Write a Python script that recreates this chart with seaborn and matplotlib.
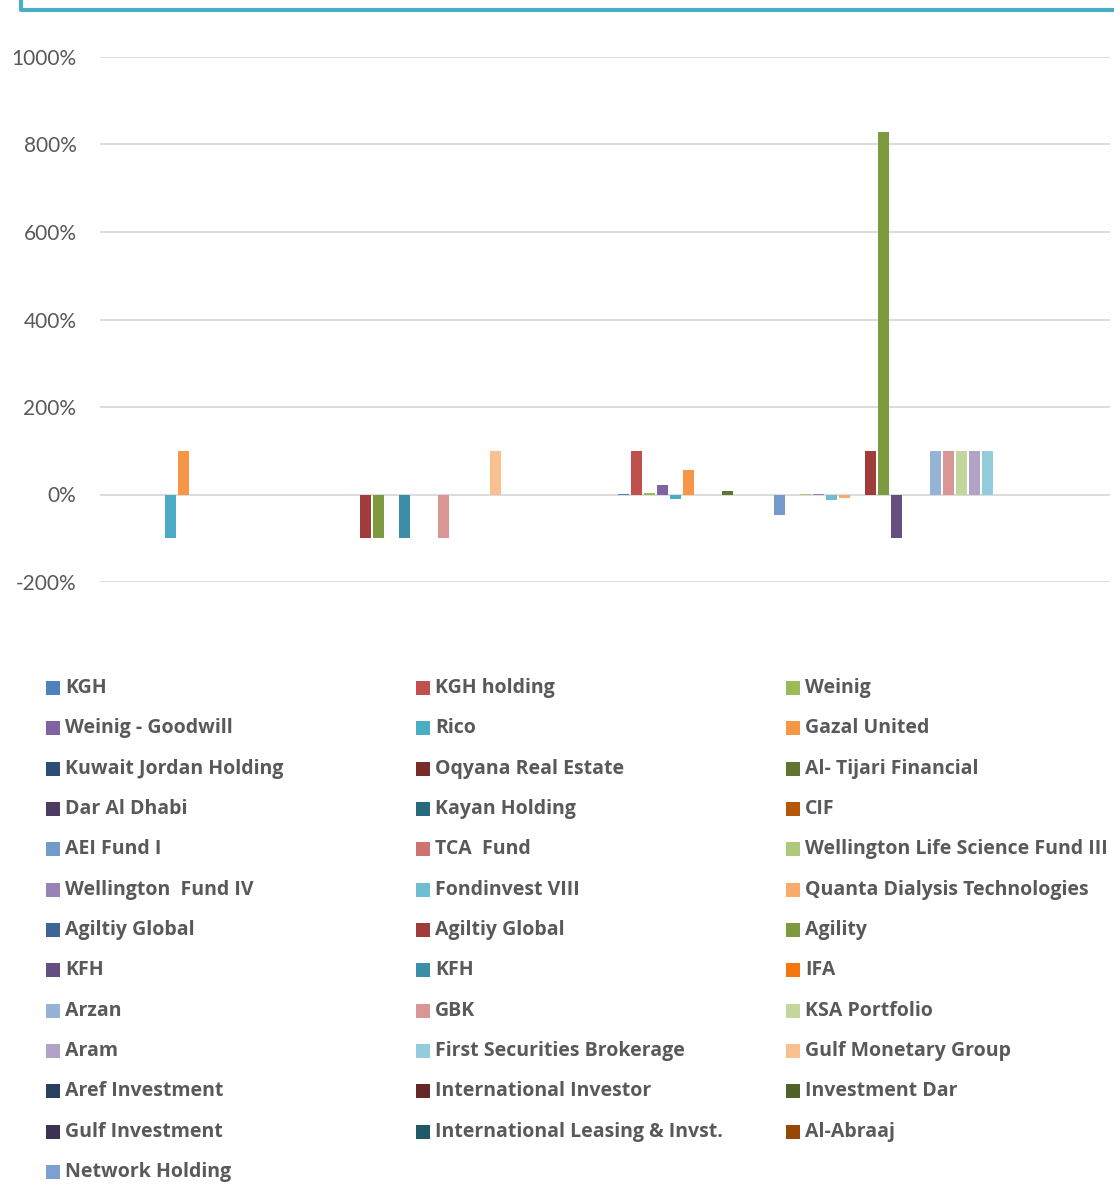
import matplotlib
matplotlib.use("Agg")
import matplotlib.pyplot as plt
import seaborn as sns
import pandas as pd
from matplotlib.patches import Rectangle
from matplotlib.lines import Line2D
from matplotlib.ticker import FuncFormatter

# ---------------- data ----------------
categories = ["Period 1", "Period 2"]  # category axis is unlabeled in the reference

series_names = [
    "KGH", "KGH holding", "Weinig",
    "Weinig - Goodwill", "Rico", "Gazal United",
    "Kuwait Jordan Holding", "Oqyana Real Estate", "Al- Tijari Financial",
    "Dar Al Dhabi", "Kayan Holding", "CIF",
    "AEI Fund I", "TCA  Fund", "Wellington Life Science Fund III",
    "Wellington  Fund IV", "Fondinvest VIII", "Quanta Dialysis Technologies",
    "Agiltiy Global", "Agiltiy Global", "Agility",
    "KFH", "KFH", "IFA",
    "Arzan", "GBK", "KSA Portfolio",
    "Aram", "First Securities Brokerage", "Gulf Monetary Group",
    "Aref Investment", "International Investor", "Investment Dar",
    "Gulf Investment", "International Leasing & Invst.", "Al-Abraaj",
    "Network Holding",
]

# values in percent
values_period1 = [
    0, 0, 0,
    0, -100, 100,
    0, 0, 0,
    0, 0, 0,
    0, 0, 0,
    0, 0, 0,
    0, -100, -100,
    0, -100, 0,
    0, -100, 0,
    0, 0, 100,
    0, 0, 0,
    0, 0, 0,
    0,
]
values_period2 = [
    1, 100, 3,
    21, -10, 57,
    0, 0, 9,
    0, 0, 0,
    -47, 0, 1,
    1, -13, -8,
    -1, 100, 828,
    -100, 0, 0,
    100, 100, 100,
    100, 100, -2,
    0, 0, 0,
    0, 0, 0,
    0,
]

series_colors = [
    "#4F81BD", "#C0504D", "#9BBB59",
    "#8064A2", "#4BACC6", "#F79646",
    "#2C4D75", "#772C2A", "#5F7530",
    "#4D3B62", "#276A7C", "#B65708",
    "#729ACA", "#CD7371", "#AFC97A",
    "#9983B5", "#6FBDD1", "#F9AB6B",
    "#3C6696", "#A03C3A", "#7E9A3E",
    "#654F82", "#3A8EA6", "#F5760E",
    "#95B3D7", "#D99694", "#C3D69B",
    "#B3A2C7", "#93CDDD", "#FAC090",
    "#26405F", "#652826", "#4F6228",
    "#3F3151", "#215968", "#974806",
    "#7EA0D0",
]

y_ticks = [-200, 0, 200, 400, 600, 800, 1000]

# ---------------- build table ----------------
keys = [f"s{i:02d}" for i in range(len(series_names))]
rows = []
for k, v1, v2 in zip(keys, values_period1, values_period2):
    rows.append({"category": categories[0], "key": k, "value": v1})
    rows.append({"category": categories[1], "key": k, "value": v2})
df = pd.DataFrame(rows)
palette = dict(zip(keys, series_colors))

# ---------------- figure ----------------
W, H = 1114, 1196
DPI = 100
sns.set_theme(style="white")
plt.rcParams["font.family"] = ["Lato", "DejaVu Sans"]
fig = plt.figure(figsize=(W / DPI, H / DPI), dpi=DPI)
fig.patch.set_facecolor("white")

def fx(px):
    return px / W

def fy(py):
    return 1 - py / H

ax_left, ax_right, ax_top, ax_bottom = 100, 1110, 57, 582
ax = fig.add_axes([fx(ax_left), fy(ax_bottom), fx(ax_right - ax_left), (ax_bottom - ax_top) / H])

sns.barplot(
    data=df, x="category", y="value", hue="key",
    order=categories, hue_order=keys, palette=palette,
    width=0.952, gap=0.15, dodge=True, saturation=1,
    errorbar=None, linewidth=0, legend=False, ax=ax,
)

ax.set_xlim(-0.5, 1.5)
ax.set_ylim(-200, 1000)
ax.set_yticks(y_ticks)
ax.yaxis.set_major_formatter(FuncFormatter(lambda v, p: f"{v:.0f}%"))
ax.set_xticks([])
ax.set_xlabel("")
ax.set_ylabel("")
ax.set_axisbelow(True)
ax.yaxis.grid(True, color="#D9D9D9", linewidth=1.3)
for s in ax.spines.values():
    s.set_visible(False)
ax.tick_params(axis="y", length=0, pad=17, labelsize=15, labelcolor="#595959")
ax.set_facecolor("none")

# ---------------- legend (Excel-style, row-major, 3 columns) ----------------
leg_x0 = 46
col_step = 370
row_y0 = 688
row_step = 40.33
box = 14
for i, (name, col) in enumerate(zip(series_names, series_colors)):
    r, c = divmod(i, 3)
    x = leg_x0 + c * col_step
    y = row_y0 + r * row_step
    fig.patches.append(Rectangle((fx(x), fy(y + box / 2)), fx(box), box / H,
                                 transform=fig.transFigure, facecolor=col,
                                 edgecolor="none"))
    fig.text(fx(x + 19), fy(y), name, ha="left", va="center",
             fontsize=14, fontweight="bold", color="#595959",
             family=["Open Sans", "DejaVu Sans"])

# ---------------- top frame border ----------------
fig.lines.append(Line2D([fx(21), fx(21), fx(W + 5)], [fy(-5), fy(10), fy(10)],
                        transform=fig.transFigure, color="#4AADC7",
                        linewidth=3, solid_joinstyle="round"))

fig.savefig("out.png", dpi=DPI, facecolor="white")
